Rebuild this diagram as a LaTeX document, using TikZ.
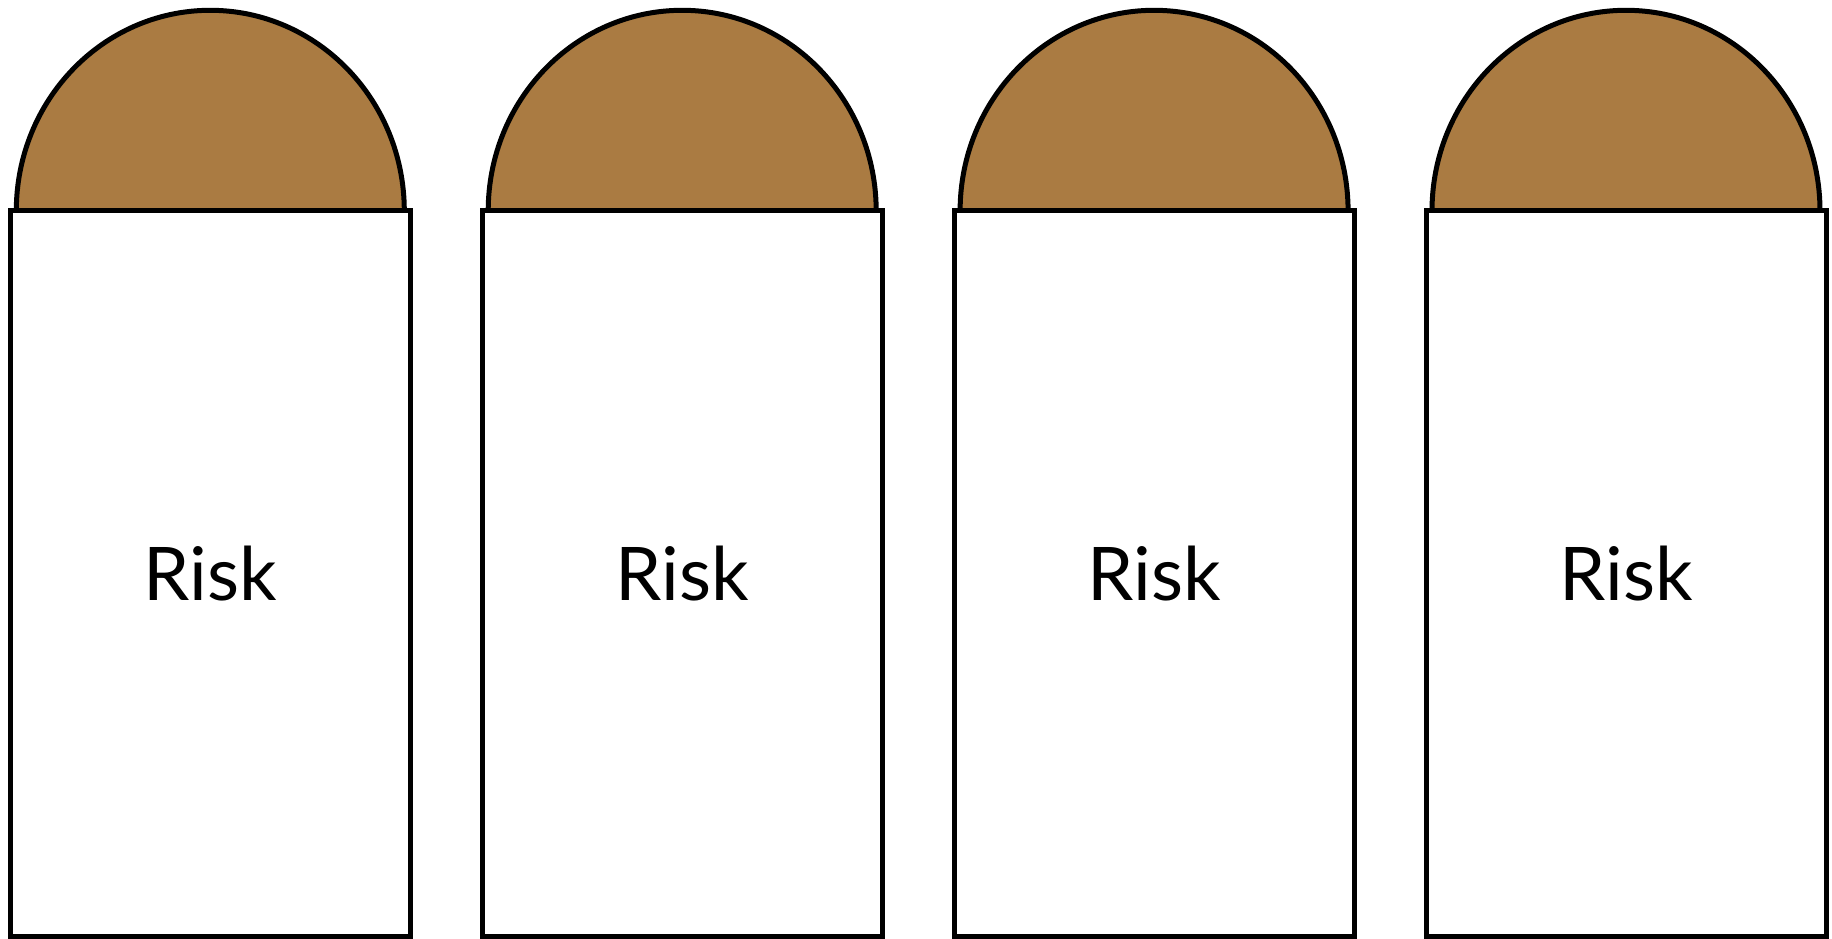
\documentclass[tikz,border=0pt]{standalone}
\usepackage{fontspec}
\setmainfont{Lato}
\definecolor{domebrown}{RGB}{170,123,66}
\begin{document}
\begin{tikzpicture}[x=0.5pt,y=0.5pt,
  pillar/.style={draw=black,line width=2.5pt,fill=white,minimum width=200pt,minimum height=362.5pt,inner sep=0pt,font=\fontsize{37}{44}\selectfont},
  domeshape/.style={draw=black,line width=2.5pt,fill=domebrown}]
\useasboundingbox (0,0) rectangle (1832,938);
\foreach \i in {0,...,3} {
  \pgfmathsetmacro\cx{210.3+\i*471.9}
  \draw[domeshape] (\cx-194,727) arc[start angle=180,end angle=0,x radius=194,y radius=200.7] -- cycle;
  \node[pillar] (p\i) at (\cx,364.5) {Risk};
}
\end{tikzpicture}
\end{document}
